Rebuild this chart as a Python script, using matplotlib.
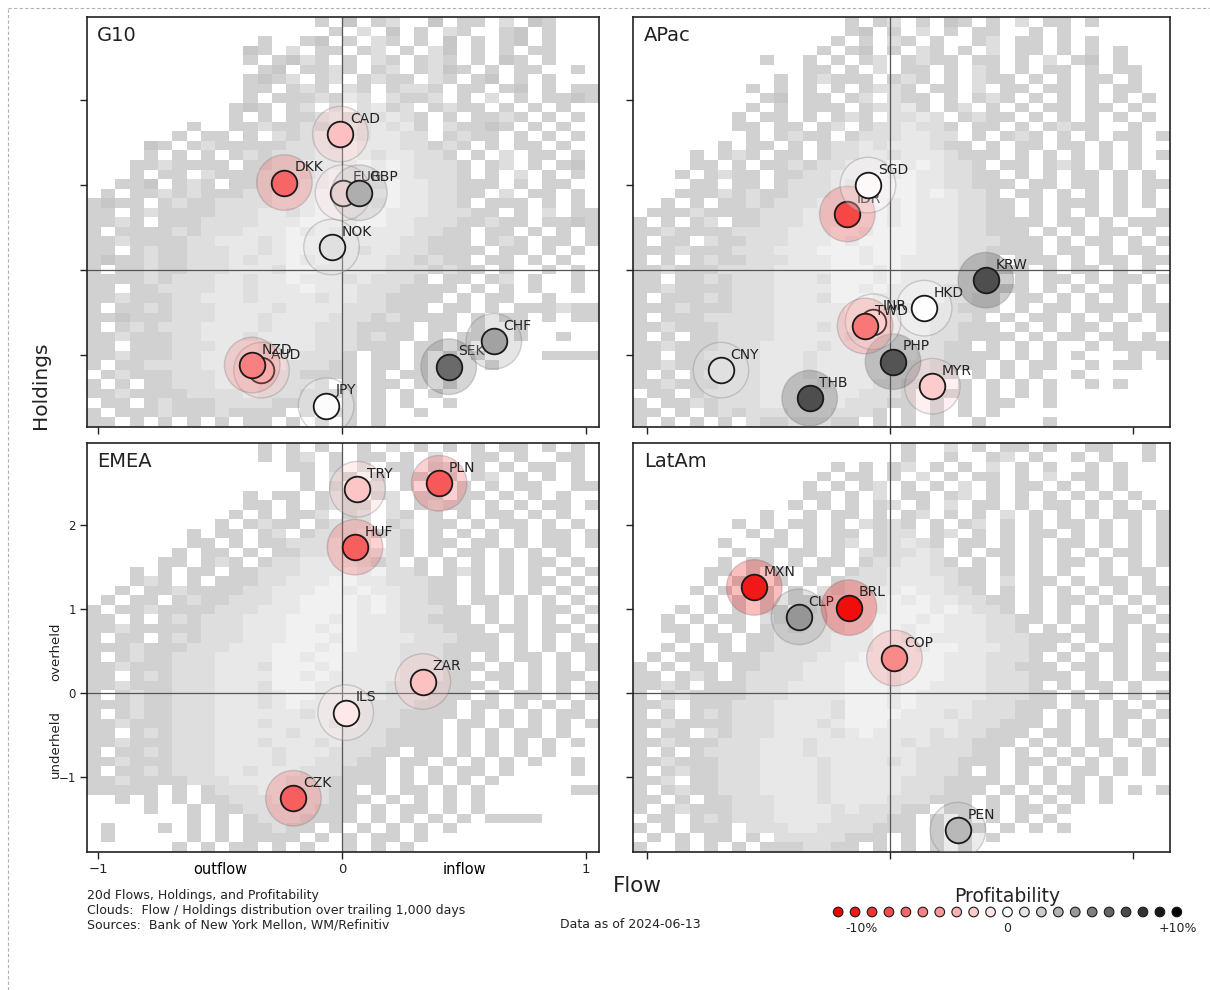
import numpy as np
import matplotlib
matplotlib.use('Agg')
import matplotlib.pyplot as plt
from matplotlib.colors import LinearSegmentedColormap, Normalize
from matplotlib.transforms import blended_transform_factory
from matplotlib.lines import Line2D

plt.rcParams['font.family'] = 'DejaVu Sans'

# --- currencies: flow (x), holdings (y), 20d profitability (%) ---
g10_ccy = ['JPY', 'NOK', 'CAD', 'DKK', 'AUD', 'NZD', 'EUR', 'GBP', 'SEK', 'CHF']
g10_flow = [-0.065, -0.043, -0.007, -0.236, -0.33, -0.368, 0.004, 0.071, 0.437, 0.622]
g10_hold = [-1.60, 0.27, 1.60, 1.03, -1.18, -1.12, 0.91, 0.91, -1.14, -0.84]
g10_prof = [0.1, 1.2, -2.5, -6.0, -2.6, -5.0, -1.2, 3.2, 5.8, 3.6]

apac_ccy = ['CNY', 'THB', 'MYR', 'PHP', 'HKD', 'KRW', 'INR', 'TWD', 'IDR', 'SGD']
apac_flow = [-0.696, -0.331, 0.174, 0.012, 0.14, 0.394, -0.07, -0.103, -0.176, -0.091]
apac_hold = [-1.18, -1.51, -1.37, -1.08, -0.45, -0.12, -0.61, -0.66, 0.66, 1.00]
apac_prof = [1.2, 6.9, -2.0, 6.7, 0.0, 6.9, -0.6, -5.3, -7.2, -0.3]

emea_ccy = ['TRY', 'PLN', 'HUF', 'ZAR', 'ILS', 'CZK']
emea_flow = [0.063, 0.398, 0.053, 0.331, 0.015, -0.199]
emea_hold = [2.43, 2.50, 1.74, 0.14, -0.23, -1.25]
emea_prof = [-2.2, -6.5, -6.3, -2.4, -0.9, -6.3]

latam_ccy = ['MXN', 'CLP', 'BRL', 'COP', 'PEN']
latam_flow = [-0.559, -0.375, -0.169, 0.018, 0.279]
latam_hold = [1.26, 0.91, 1.02, 0.42, -1.63]
latam_prof = [-9.0, 4.1, -9.5, -4.6, 2.8]

# --- clouds: flow / holdings distribution over trailing 1,000 days ---
# one char per cell, ' ' = empty, 1 (few days) .. 5 (many days)
g10_cloud = [
    "                2 1 23  1 22 3 12   ",
    "                 2 3 1 2 32  21 2   ",
    "            2  21 2 32 2 1 2 21 2   ",
    "           12 3 22 23 2 31 2 2 22   ",
    "           2 2132 2 32 232 2 12 2   ",
    "            21 2232 23 2312 2 22  2 ",
    "           2123 23 2322 32 21 2 2   ",
    "           22 232 32 2332 22 21 2 22",
    "           2 2223243 3223 2 3 2 2212",
    "          212 23 3 3423 2322 2 2 2  ",
    "          2 2 2234333432 2 2232 2 2 ",
    "       2  22322323434342 32212 2 2  ",
    "      2 22 2 32343434433 2322 2 2 2 ",
    "    12 23222223343544433232 2 22 2  ",
    "    2 2 2 2323334454344332 2 3 22 2 ",
    "   2232222 2233444454543332 23 2 21 ",
    "   2 22 3222334345554443332 2 3 2 2 ",
    "  221 232 2234344555454433222 2 22  ",
    " 2 2232322233444555555443322 3 22 2 ",
    "2122 2322333344455554544332 222 2 2 ",
    "22 23222233344345555544433322 2 3 22",
    "2232 22233334445554554433322322 2212",
    "2 2222323334445454544443322 22 2 2 2",
    "223222233444345555444433222 232 22 2",
    "22 2322333443455544344332222 22 2 2 ",
    "212232233343445454444332322 22 2 2  ",
    "2 22322333444355444443332322 2  2 2 ",
    "222232333443445444343332 22 23 2  2 ",
    "22 22333344344454443332222 2 2 2  2 ",
    "2232223344434444344332222 2 22  2   ",
    "2 2232333444434444333222 22 2 222322",
    "22122233344434444333232222 2 22 2 22",
    "2 232333444434443332222 22 2  2     ",
    "22322233444344443332322 2 22  2  2  ",
    "22 2223334443444333222 22 2 2       ",
    "2232223344443443332 22 2 2 2    2222",
    "2 22333344434433322 22 2 2  2       ",
    " 232223334443332222 2 22 2          ",
    "2 2 2233344433332 2 22 2 2          ",
    "2232222333343332222 2 2 2           ",
    " 22 2322233332222 2 2 2  2          ",
    "2 222322232222 2 22 2  2            ",
    "22 2 2 2 2 22 2 2 2 2               ",
]

apac_cloud = [
    "               2 23 2 12 2 3 22 2     ",
    "               21 2 3 2 22  2 2       ",
    "              2 2 32 2  23 22 2 2     ",
    "             2 21 2 32 2 3 22 2 2 2   ",
    "         2  2 2 23 2322 22 2 3 21 2   ",
    "            22 2 3 22 2 32 2 22 2 22  ",
    "          2 23222 232 2 322 2 2 22 2  ",
    "        2 2 2 2 2332 22 3 22 22 2 22  ",
    "         21 22 23 322 2 232 2 2 2 2 2 ",
    "        2 2 222 23342 23 2 2 22 22 2  ",
    "       2 22 2 232 3343 2322 2 2 2 2 2 ",
    "       22 22 23 2334332 22 2 2322  2  ",
    "        2 2322 23334433 2 232 2 2 22 2",
    "      2 22 2 23343444322 2 22 22 2 2  ",
    "    2 232 22 2334434443222 2 2 2 2 2 2",
    "    22 2 2232334445454332 22 232 2 2  ",
    "   2 2322 2233444545443322 2 2 22 2 2 ",
    "    22 22 23334345554433222 22 22 2 22",
    "   22232322333444555454332 22 2 2 2 2 ",
    "  2 2 223233344455454443322 2 222 2 2 ",
    " 22232222333444555454443322 2 2 2 2  2",
    "2 2 23 2233344455545444332222 22 2 222",
    "2232222333344455455544433222 2 2 22 2 ",
    "2 22 322333444545555444333222 2 22 2 2",
    "22232223334445554555444332222 22 2 22 ",
    "2 2 2322333444554554444332 222 2 22 22",
    "2232223333444455545444433222 2 22 2 2 ",
    "22 22323334443555454444332 2 22 2 22 2",
    "2232222333444455454444333222 2 2 22 2 ",
    "2 222323334443555444443322 22 2 2 2 2 ",
    "22232223334444455443433222 2 22 222 22",
    "2 22233333444445544443332 2 22 2 2 2 2",
    "22322233334443455444433222 2 2 22 2  2",
    "2 2 22333344444354444332222 2 22 22 2 ",
    "223222333444434444443322 2 2 2  2 2222",
    "22 22333344434444434332222 2 2 2   2 2",
    "2232223334443444443332222 2 22  2 22  ",
    "2 2 2333344434444433322 2 2 2  2      ",
    "2232223334444344433222 2 2 2 2  2 2   ",
    " 22 2333344434443332 222 2 2 2        ",
    "2 223233344434433322 2 2 22  2        ",
    "22 2 2323334443332 2 2 2 2            ",
    "2 2 2 2 32233322 2 2 2  2    2        ",
]

emea_cloud = [
    "            2 2 2  2 3 2 2 2 22 2 2 ",
    "            2 23 2 22 2 3  22 2  22 ",
    "              22 2 3 22 23 2 2 22 2 ",
    "               2 32 2 22 2 23 2 2 2 ",
    "               2 2 23 2 3 2 2 22  22",
    "           2 22 232 23 22 22 2 2 2  ",
    "           22 2 2322 3 2322 2 2 22 2",
    "          2 2 223 23 32 2 2 22 2 2  ",
    "         2 2322 2333 23 22 2 22 2 2 ",
    "       2 22 23 23334232 2 2 2 2 22 2",
    "       22 2 22333434 32 22 22 2 22 2",
    "      2 22 2 2233443432 2 22 2 2 2  ",
    "     22 232 2334444323 2 2 2 2 22 2 ",
    "   2 2 22 22333444545332 232 2 2 2 2",
    "   232 2 22233444554433322 2 2 22 2 ",
    "  2 2232222334445545443322 2 2 2 2 2",
    " 2 22 23223334455554543322 22 2 2 2 ",
    "2 2232222333444555545433322 2 2 22 2",
    "22 2 2323334445554544433222 2 2 2 2 ",
    "2232222233344455455444333222 22 22 2",
    "2 22 232333444555454444333222 2 2 2 ",
    "22232223334445554554443332222 2 2 22",
    "2 2322333444455455444433322 2 22 2 2",
    "2232223334443555454444333222 2 2 2 2",
    "22 232333444455454444433322 22 2 22 ",
    "2232223334443555444443332222 2 2 2 2",
    "2 2322333444345544444333222 2 22 2 2",
    "22232233344434544443333222 22 2 2 2 ",
    "2 232233344444434443332222 2 2 2 22 ",
    "2232223334443444434333222 22 2 2 2 2",
    "22 2323334444434443332222 2 2 22 2  ",
    "2232223334443444343332222 2 2 2 2 2 ",
    "2 22323334444344433322 22 2 2 2 2   ",
    "223222333444434433322 22 2 2 2 2  2 ",
    "2 2232333443444333222 2 2 22 2    2 ",
    "223222233344443332222 2 2 2 2       ",
    "22222 2 23334433322 2 22 2 2      22",
    "  2 2 2 223334333222 2 2 2 2        ",
    "    2  2 2233333222 2 22 2 2        ",
    "       2 2 23332222 2 2 2 2 2222    ",
    " 2   2 2 2 22322 2 2 2 2 2         ",
    " 2     2 2 2222 2 2 22 2           ",
    "      2 2 22 2 2  2 2 2             ",
]

latam_cloud = [
    "                   2  3 2 22 2  22  2 ",
    "                   2  2  23 2  2 2  2 ",
    "              2 2 23 2 2 3 2 2  2 2   ",
    "             2 22 2 3 2 22 2 3 22 2   ",
    "            2 2 23 2 2 3 2 22 2 2 2   ",
    "            22 2 3 22 23 2 2 2 2 2 2  ",
    "           2 2 2 23 2 3 22 2 22 2 2 2 ",
    "         2  2 22 2 23 2 2 3 2 2 2 22 2",
    "       2 2 22 2 3232 2 23 2 2 22 2 2 2",
    "        2 2 2 22 233 23 2 2 22 2 2 2 2",
    "      2  22 2 23 23432 22 2 2 22 2 2 2",
    "       2 2 22 2 323343 2 22 2 2 2 22 2",
    "      2 22 2 22 2334432 2 2 2 22 2 2 2",
    "     22 2 2 22 2334443322 2 2 2  2 22 ",
    "     2 22 2 2 23334444322 3 22 2 22 2 ",
    "    2 2 22 2 323344544332 2 2 2 2 2 22",
    "     2 2 2 2223344545443322 2 22 2 2 2",
    "   2 2 2 22 233344555454332 2 2 2 2 2 ",
    "  2 2 22 32233344555454443322 2 2 22 2",
    "  22 2 2 2323334455455444332 2 22 2 2 ",
    "   2 22 22333344455454444333222 2 2 22",
    "  2 2 2 2233334445554554443322 2 22 2 ",
    " 2 22 22233334445545554443332 2 2 2 22",
    "2 2 22 22333444555455544433222 22 2 2 ",
    "22 232 233334445554555444333222 2 2 22",
    "2232 222333444455545544443332 2 22 2 ",
    "2 2322223334444555454444433322 2 2 2 2",
    "223 22233344443555454444333222 22 2 2 ",
    "2 2 2323334444355554443433322 2 2 22 2",
    "22322223334443455544444333222 2 2 2 2 ",
    "2 22 32333444434544443433222 22 2 2 2 ",
    "223222333444344444434333222 2 2 22 2 2",
    "2 2 2333344434444444333322 2 2 2 2  2 ",
    "22322233344443444434333222 22 2 2 2 2 ",
    "2 2322333444434444443332 2 2 2 22 2 2 ",
    "223 2233344443444443332222 2 2 2 2    ",
    "2 23223334444344444333222 2 2 22 2 2 2",
    "22 2 2233344434444333222 2 2 2 2 2    ",
    "2 2322233344443433322 22 2 22 2       ",
    " 22 2323334444333322 2 2 2 2 2        ",
    "2 2 222 333443333222 2 22 2 2 2       ",
    " 2 2 22 2 33333222 2 2 2 2           ",
    "2  2 2 2 2223322 2 2 2 2              ",
]
cloud_greys = [0.78, 0.82, 0.87, 0.91, 0.945]

# panel name, pixel box (left, top, right, bottom), xlim, ylim
W, H = 1210, 990
panels = [
    ('G10', (87, 17, 599, 427), (-1.045, 1.053), (-1.85, 2.98),
     g10_ccy, g10_flow, g10_hold, g10_prof, g10_cloud, 36),
    ('APac', (633, 17, 1170, 427), (-1.058, 1.152), (-1.85, 2.98),
     apac_ccy, apac_flow, apac_hold, apac_prof, apac_cloud, 38),
    ('EMEA', (87, 443, 599, 852), (-1.045, 1.053), (-1.89, 2.98),
     emea_ccy, emea_flow, emea_hold, emea_prof, emea_cloud, 36),
    ('LatAm', (633, 443, 1170, 852), (-1.058, 1.152), (-1.89, 2.98),
     latam_ccy, latam_flow, latam_hold, latam_prof, latam_cloud, 38),
]

cmap = LinearSegmentedColormap.from_list('prof', [(0.95, 0.0, 0.0), 'white', 'black'])
norm = Normalize(-10, 10)

fig = plt.figure(figsize=(W / 100, H / 100), dpi=100)


def cloud_array(rows, ncol):
    arr = np.full((len(rows), ncol), np.nan)
    for i, row in enumerate(rows):
        for j, ch in enumerate(row.ljust(ncol)[:ncol]):
            if ch != ' ':
                arr[i, j] = cloud_greys[int(ch) - 1]
    return arr


for name, box, xlim, ylim, ccy, flow, hold, prof, cloud, ncol in panels:
    l, t, r, b = box
    ax = fig.add_axes([l / W, 1 - b / H, (r - l) / W, (b - t) / H])
    ax.imshow(cloud_array(cloud, ncol), cmap='gray', vmin=0, vmax=1,
              extent=(xlim[0], xlim[1], ylim[0], ylim[1]), aspect='auto',
              interpolation='nearest', zorder=0)
    ax.axvline(0, color='#555555', lw=0.9, zorder=1)
    ax.axhline(0, color='#555555', lw=0.9, zorder=1)

    for i, (c, x, y, p) in enumerate(zip(ccy, flow, hold, prof)):
        col = cmap(norm(p))
        z = 2 + 3 * i
        ax.scatter(x, y, s=1600, color=col, alpha=0.28, edgecolors='none', zorder=z)
        ax.scatter(x, y, s=1600, facecolors='none', edgecolors=(0.45, 0.45, 0.45, 0.3),
                   linewidths=1.0, zorder=z)
        ax.scatter(x, y, s=340, color=col, edgecolors='#1a1a1a', linewidths=1.3, zorder=z + 1)
        ax.annotate(c, (x, y), xytext=(7, 6), textcoords='offset points',
                    fontsize=10, color='#222222', ha='left', va='bottom', zorder=z + 2)

    ax.set_xlim(*xlim)
    ax.set_ylim(*ylim)
    ax.set_xticks([-1, 0, 1])
    ax.set_yticks([-1, 0, 1, 2])
    ax.tick_params(direction='out', length=5, width=1, labelsize=9.5, colors='#222222')
    ax.tick_params(axis='y', labelsize=8.5, pad=3)
    for s in ax.spines.values():
        s.set_linewidth(1.2)
        s.set_color('#222222')
    ax.text(0.02, 0.978, name, transform=ax.transAxes, fontsize=14,
            ha='left', va='top', color='#222222')

    if name == 'EMEA':
        ax.set_xticks([-0.5, 0.5], minor=True)
        ax.set_xticklabels(['outflow', 'inflow'], minor=True)
        ax.tick_params(axis='x', which='minor', length=0, labelsize=10.5, pad=7)
        ax.tick_params(axis='x', which='major', pad=3)
        trans = blended_transform_factory(ax.transAxes, ax.transData)
        ax.text(-0.062, 0.5, 'overheld', transform=trans, rotation=90,
                fontsize=9.5, ha='center', va='center', color='#222222')
        ax.text(-0.062, -0.6, 'underheld', transform=trans, rotation=90,
                fontsize=9.5, ha='center', va='center', color='#222222')
    else:
        ax.set_xticklabels([])
        ax.set_yticklabels([])

fig.text(40 / W, 1 - 385 / H, 'Holdings', rotation=90, fontsize=14.5,
         ha='center', va='center', color='#222222')
fig.text(637 / W, 1 - 886 / H, 'Flow', fontsize=15.5, ha='center', va='center', color='#222222')

notes = ['20d Flows, Holdings, and Profitability',
         'Clouds:  Flow / Holdings distribution over trailing 1,000 days',
         'Sources:  Bank of New York Mellon, WM/Refinitiv']
for k, note in enumerate(notes):
    fig.text(87 / W, 1 - (896 + 14.5 * k) / H, note, fontsize=9,
             ha='left', va='center', color='#222222')
fig.text(560 / W, 1 - 925 / H, 'Data as of 2024-06-13', fontsize=9,
         ha='left', va='center', color='#222222')

# profitability scale
prof_steps = np.arange(-10, 11)
lax = fig.add_axes([828 / W, 1 - 921 / H, 359 / W, 18 / H])
lax.scatter(prof_steps, np.zeros(len(prof_steps)), s=48, c=prof_steps, cmap=cmap, norm=norm,
            edgecolors='#1a1a1a', linewidths=0.8)
lax.set_xlim(-10.6, 10.6)
lax.set_ylim(-1, 1)
lax.axis('off')
fig.text(1007 / W, 1 - 897 / H, 'Profitability', fontsize=13.5, ha='center', va='center', color='#222222')
fig.text(862 / W, 1 - 928 / H, '-10%', fontsize=9, ha='center', va='center', color='#222222')
fig.text(1007 / W, 1 - 928 / H, '0', fontsize=9, ha='center', va='center', color='#222222')
fig.text(1178 / W, 1 - 928 / H, '+10%', fontsize=9, ha='center', va='center', color='#222222')

# dashed page frame
fig.add_artist(Line2D([8 / W, 8 / W], [0, 1 - 8 / H], transform=fig.transFigure,
                      color='#b0b0b0', lw=0.8, ls=(0, (3, 2))))
fig.add_artist(Line2D([8 / W, 1], [1 - 8 / H, 1 - 8 / H], transform=fig.transFigure,
                      color='#b0b0b0', lw=0.8, ls=(0, (3, 2))))

fig.savefig('out.png', dpi=100)
